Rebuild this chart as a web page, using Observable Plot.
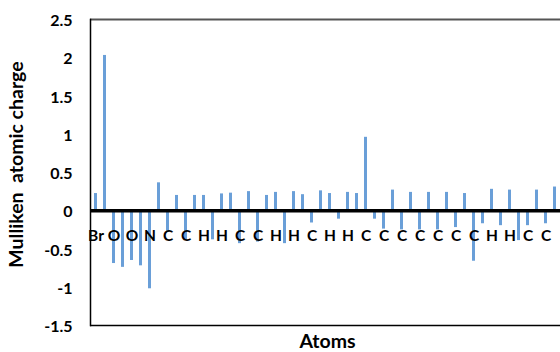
<!DOCTYPE html>
<html>
<head>
<meta charset="utf-8">
<script src="https://cdn.jsdelivr.net/npm/d3@7"></script>
<script src="https://cdn.jsdelivr.net/npm/@observablehq/plot@0.6"></script>
<style>
  html, body { margin: 0; padding: 0; background: #fff; }
  #chart svg { display: block; }
</style>
</head>
<body>
<div id="chart"></div>
<script>
// Mulliken atomic charges, one per atom (52 atoms visible)
const charges = [0.225, 2.03, -0.69, -0.74, -0.65, -0.72, -1.02, 0.365, -0.27, 0.20,
  -0.38, 0.20, 0.20, -0.38, 0.22, 0.23, -0.43, 0.25, -0.41, 0.20,
  0.24, -0.43, 0.25, 0.21, -0.16, 0.26, 0.225, -0.11, 0.24, 0.225,
  0.96, -0.11, -0.24, 0.27, -0.25, 0.24, -0.25, 0.24, -0.25, 0.24,
  -0.22, 0.225, -0.66, -0.17, 0.28, -0.195, 0.27, -0.39, -0.195, 0.27,
  -0.17, 0.31];
// Category labels shown on every other atom
const atomLabels = ["Br", "O", "O", "N", "C", "C", "H", "H", "C", "C", "H", "H", "C",
  "H", "H", "C", "C", "C", "C", "C", "C", "C", "H", "H", "C", "C"];
const yTicks = [-1.5, -1, -0.5, 0, 0.5, 1, 1.5, 2, 2.5];

const font = "Lato, 'Open Sans', sans-serif";
const chart = Plot.plot({
  width: 560,
  height: 352,
  marginLeft: 90,
  marginRight: 0,
  marginTop: 19,
  marginBottom: 27,
  style: { fontFamily: font, background: "#fff", color: "#000" },
  x: { type: "band", domain: d3.range(charges.length), paddingInner: 0.7, paddingOuter: 0.35, axis: null },
  y: { domain: [-1.5, 2.5], axis: null },
  marks: [
    Plot.barY(charges, { x: (d, i) => i, y: d => d, fill: "#6a9fd8" }),
    Plot.ruleY([0], { stroke: "#000", strokeWidth: 3.5 }),
    Plot.ruleY([2.5], { stroke: "#555", strokeWidth: 1.8 }),
    Plot.ruleY([-1.5], { stroke: "#000", strokeWidth: 1.5 }),
    Plot.frame({ anchor: "left", stroke: "#000", strokeWidth: 1.5 }),
    Plot.axisY({ ticks: yTicks, tickSize: 0, tickPadding: 18, tickFormat: d => String(d),
      fontSize: 16, fontWeight: "bold", label: null, dy: 1.5 }),
    Plot.text(atomLabels, { x: (d, i) => 2 * i, y: 0, dy: 25, text: d => d,
      fontSize: 15.5, fontWeight: "bold", fill: "#000" }),
    Plot.text(["Mulliken  atomic charge"], { frameAnchor: "left", text: d => d, rotate: -90,
      textAnchor: "middle", lineAnchor: "middle",
      dx: -74, dy: -8, fontSize: 19.5, fontWeight: "bold", fill: "#000" }),
    Plot.text(["Atoms"], { frameAnchor: "bottom", text: d => d, lineAnchor: "middle",
      textAnchor: "middle", dy: 16, dx: 2,
      fontSize: 19.5, fontWeight: "bold", fill: "#000" })
  ]
});
document.getElementById("chart").appendChild(chart);
</script>
</body>
</html>
